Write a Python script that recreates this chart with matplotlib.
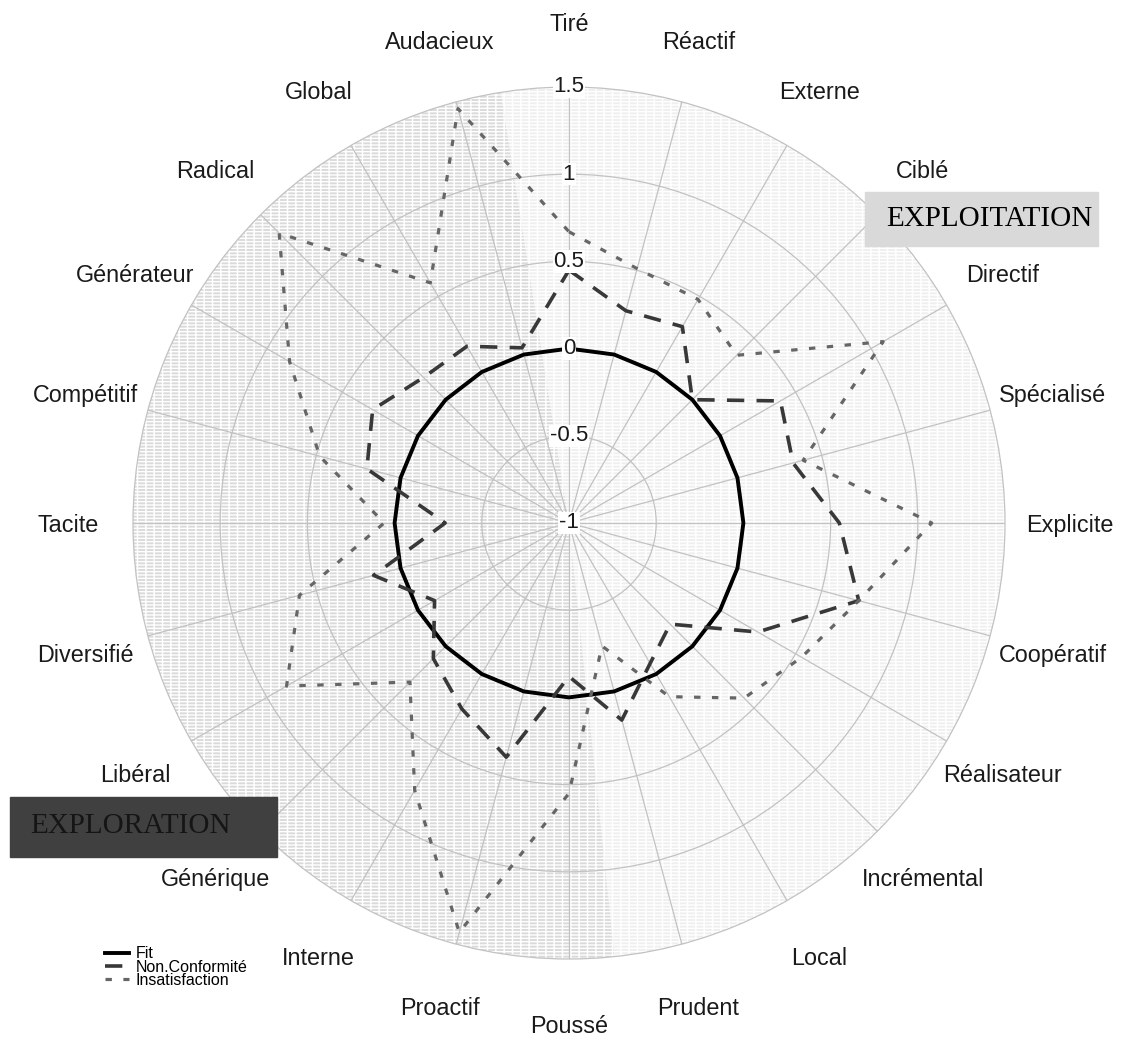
import numpy as np
import matplotlib
matplotlib.use("Agg")
import matplotlib.pyplot as plt
from matplotlib.patches import Rectangle

categories = ["Tiré", "Réactif", "Externe", "Ciblé", "Directif", "Spécialisé",
              "Explicite", "Coopératif", "Réalisateur", "Incrémental", "Local",
              "Prudent", "Poussé", "Proactif", "Interne", "Générique", "Libéral",
              "Diversifié", "Tacite", "Compétitif", "Générateur", "Radical",
              "Global", "Audacieux"]
fit = [0.0] * 24
non_conformite = [0.45, 0.26, 0.30, 0.00, 0.40, 0.33, 0.55, 0.72, 0.25, -0.18,
                  -0.07, 0.17, -0.12, 0.39, 0.23, 0.10, -0.11, 0.16, -0.29, 0.20,
                  0.30, 0.18, 0.17, 0.04]
insatisfaction = [0.67, 0.51, 0.48, 0.36, 1.08, 0.39, 1.08, 0.72, 0.54, 0.42,
                  0.15, -0.27, 0.55, 1.43, 0.77, 0.29, 0.87, 0.60, 0.06, 0.48,
                  0.85, 1.35, 0.59, 1.46]
r_ticks = [-1, -0.5, 0, 0.5, 1, 1.5]
r_tick_labels = ["-1", "-0.5", "0", "0.5", "1", "1.5"]

W, H = 1126, 1038
cx, cy, R = 569, 523, 436

fig = plt.figure(figsize=(W / 100, H / 100), dpi=100)
ax = fig.add_axes([(cx - R) / W, (H - cy - R) / H, 2 * R / W, 2 * R / H],
                  projection="polar")
ax.set_theta_zero_location("N")
ax.set_theta_direction(-1)
ax.set_ylim(-1, 1.5)

theta = np.deg2rad(np.arange(len(categories)) * 360 / len(categories))

# background halves (exploration side darker)
ax.bar(np.deg2rad(262.5), 2.5, width=np.deg2rad(177), bottom=-1, color="#dadada",
       edgecolor="white", linewidth=0, hatch="-----||", zorder=0.2, align="center")
ax.bar(np.deg2rad(82.5), 2.5, width=np.deg2rad(183), bottom=-1, color="#efefef",
       edgecolor="white", linewidth=0, hatch="-----||", zorder=0.2, align="center")

ax.set_xticks(theta)
ax.set_xticklabels([])
ax.set_yticks(r_ticks[1:-1])
ax.set_yticklabels([])
ax.set_axisbelow(True)
ax.grid(color="#c2c2c2", linewidth=0.9)
ax.spines["polar"].set_color("#c2c2c2")
ax.spines["polar"].set_linewidth(0.9)

def closed(v):
    return np.append(theta, theta[0]), np.append(v, v[0])

l1, = ax.plot(*closed(fit), color="black", linewidth=2.8, zorder=3)
l2, = ax.plot(*closed(non_conformite), color="#383838", linewidth=2.6, zorder=3,
              dashes=(4.8, 3.4))
l3, = ax.plot(*closed(insatisfaction), color="#666666", linewidth=2.3, zorder=3,
              dashes=(2.0, 3.6))

for t, lab in zip(theta, categories):
    ax.text(t, 1.87, lab, ha="center", va="center_baseline", fontsize=16.8,
            family="Liberation Sans", color="#1a1a1a")

for v, lab in zip(r_ticks, r_tick_labels):
    ax.text(0, v, lab, ha="center", va="center", fontsize=16,
            family="Liberation Sans", color="#1a1a1a", zorder=4,
            bbox=dict(facecolor="white", edgecolor="none", pad=0.5))

fig.legend(handles=[l1, l2, l3], labels=["Fit", "Non.Conformité", "Insatisfaction"],
           loc="center left", bbox_to_anchor=(105 / W, 1 - 967 / H), frameon=False,
           prop=dict(family="Liberation Sans", size=11.5), handlelength=1.5,
           handletextpad=0.4, labelspacing=-0.1, borderpad=0, borderaxespad=0)

# quadrant tags
fig.patches.append(Rectangle((865 / W, 1 - 246 / H), 233 / W, 54 / H,
                             transform=fig.transFigure, color="#d9d9d9", zorder=5))
fig.text(886 / W, 1 - 219 / H, "EXPLOITATION", family="Liberation Serif",
         fontsize=21, va="center", color="black", zorder=6)
fig.patches.append(Rectangle((10 / W, 1 - 857 / H), 267 / W, 60 / H,
                             transform=fig.transFigure, color="#404040", zorder=5))
fig.text(30 / W, 1 - 826 / H, "EXPLORATION", family="Liberation Serif",
         fontsize=21, va="center", color="#151515", zorder=6)

fig.savefig("out.png", dpi=100)
